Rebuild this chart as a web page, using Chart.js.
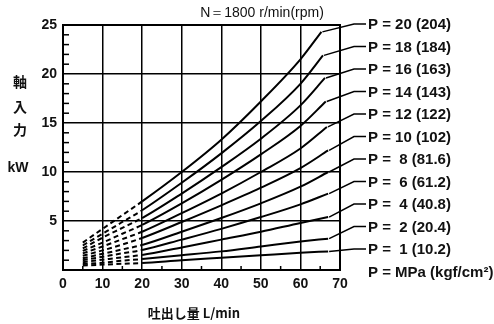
<!DOCTYPE html>
<html>
<head>
<meta charset="utf-8">
<script src="https://cdn.jsdelivr.net/npm/chart.js@4.4.1/dist/chart.umd.min.js"></script>
<style>
  body { margin: 0; background: #fff; }
  #wrap { width: 494px; height: 324px; }
</style>
</head>
<body>
<div id="wrap"><canvas id="powerChart" width="494" height="324"></canvas></div>
<script>
// shaft input power vs delivery, N = 1800 r/min
var pressures = [20, 18, 16, 14, 12, 10, 8, 6, 4, 2, 1];
var pressureKgf = ['204', '184', '163', '143', '122', '102', '81.6', '61.2', '40.8', '20.4', '10.2'];
var flowPts = [5, 10, 15, 20, 30, 40, 50, 60];
var endFlow = [65.3, 65.7, 66.2, 66.4, 66.7, 67, 67, 67, 67, 67, 67];

var kwP20 = [2.8, 4.2, 5.6, 7.0, 10.0, 13.3, 17.2, 21.5, 24.3];
var kwP18 = [2.5, 3.7, 4.9, 6.1, 8.9, 11.9, 15.2, 19.0, 21.9];
var kwP16 = [2.2, 3.3, 4.3, 5.3, 7.8, 10.5, 13.4, 16.8, 19.6];
var kwP14 = [1.95, 2.8, 3.7, 4.6, 6.8, 9.2, 11.8, 14.7, 17.2];
var kwP12 = [1.7, 2.4, 3.15, 3.9, 5.8, 7.8, 10.0, 12.4, 14.6];
var kwP10 = [1.45, 2.0, 2.6, 3.27, 4.9, 6.6, 8.4, 10.4, 12.2];
var kwP8 = [1.2, 1.65, 2.1, 2.55, 3.9, 5.3, 6.8, 8.5, 10.0];
var kwP6 = [1.0, 1.35, 1.7, 2.04, 3.1, 4.2, 5.4, 6.7, 7.8];
var kwP4 = [0.8, 1.05, 1.3, 1.53, 2.3, 3.1, 3.9, 4.8, 5.4];
var kwP2 = [0.6, 0.75, 0.95, 1.12, 1.5, 1.9, 2.4, 2.9, 3.2];
var kwP1 = [0.45, 0.55, 0.63, 0.71, 1.0, 1.25, 1.5, 1.75, 1.9];

var kwSeries = [kwP20, kwP18, kwP16, kwP14, kwP12, kwP10, kwP8, kwP6, kwP4, kwP2, kwP1];

var xTicks = [0, 10, 20, 30, 40, 50, 60, 70];
var yTicks = [5, 10, 15, 20, 25];

var BOLD = 'bold 14px "Liberation Sans", Arial, sans-serif';
var CJK = 'bold 14px "Noto Sans CJK JP", "Noto Sans CJK SC", sans-serif';

var datasets = [];
for (var i = 0; i < pressures.length; i++) {
    var pts = [];
    var vals = kwSeries[i];
    for (var j = 0; j < vals.length; j++) {
        pts.push({ x: j < flowPts.length ? flowPts[j] : endFlow[i], y: vals[j] });
    }
    datasets.push({
        label: 'P = ' + pressures[i],
        data: pts,
        borderColor: '#000',
        borderWidth: 2,
        pointRadius: 0,
        fill: false,
        cubicInterpolationMode: 'monotone',
        segment: {
            borderDash: function (ctx) {
                return ctx.p1.parsed.x <= 20 ? [5, 3.4] : undefined;
            }
        }
    });
}

function labelText(i) {
    var p = pressures[i] < 10 ? ' ' + pressures[i] : '' + pressures[i];
    return 'P = ' + p + ' (' + pressureKgf[i] + ')';
}

var decor = {
    id: 'decor',
    afterDraw: function (chart) {
        var c = chart.ctx;
        var a = chart.chartArea;
        var xs = chart.scales.x, ys = chart.scales.y;
        c.save();
        c.strokeStyle = '#000';
        c.fillStyle = '#111';

        // frame
        c.lineWidth = 2;
        c.strokeRect(a.left, a.top, a.right - a.left, a.bottom - a.top);

        // minor ticks
        c.lineWidth = 1.5;
        for (var v = 1; v < 25; v++) {
            if (v % 5 === 0) continue;
            var py = ys.getPixelForValue(v);
            c.beginPath(); c.moveTo(a.left, py); c.lineTo(a.left + 6, py); c.stroke();
        }
        for (var f = 5; f < 70; f += 10) {
            var px = xs.getPixelForValue(f);
            c.beginPath(); c.moveTo(px, a.bottom); c.lineTo(px, a.bottom - 4); c.stroke();
        }

        // title
        c.font = '14px "Liberation Sans", Arial, sans-serif';
        c.textAlign = 'center';
        c.textBaseline = 'middle';
        c.fillText('N\uFF1D1800 r/min(rpm)', 262, 13);

        // y title
        c.font = CJK;
        c.fillText('軸', 20, 82);
        c.fillText('入', 20, 107);
        c.fillText('力', 20, 130);
        c.font = BOLD;
        c.fillText('kW', 18, 168);

        // x title
        c.font = 'bold 13px "Noto Sans CJK JP", sans-serif';
        c.fillText('吐出し量 L/min', 194, 313);

        // pressure labels with leaders
        c.font = 'bold 15px "Liberation Sans", Arial, sans-serif';
        c.textAlign = 'left';
        c.lineWidth = 1.5;
        var rowTop = a.top - 1, rowStep = 22.5;
        for (var k = 0; k < pressures.length; k++) {
            var ry = rowTop + k * rowStep;
            var d = chart.getDatasetMeta(k).data;
            var endPt = d[d.length - 1];
            c.beginPath();
            c.moveTo(endPt.x + 1, endPt.y);
            c.lineTo(a.right + 14, ry);
            c.lineTo(a.right + 26, ry);
            c.stroke();
            c.fillText(labelText(k), a.right + 28, ry + 1);
        }
        c.fillText('P = MPa (kgf/cm\u00B2)', a.right + 28, rowTop + 11 * rowStep + 1);
        c.restore();
    }
};

new Chart(document.getElementById('powerChart'), {
    type: 'line',
    data: { datasets: datasets },
    options: {
        responsive: false,
        devicePixelRatio: 1,
        animation: false,
        layout: { padding: { left: 0, top: 25, right: 154, bottom: 0 } },
        plugins: { legend: { display: false }, tooltip: { enabled: false } },
        scales: {
            x: {
                type: 'linear',
                min: 0, max: 70,
                afterFit: function (s) { s.height = 54; },
                afterBuildTicks: function (s) { s.ticks = xTicks.map(function (v) { return { value: v }; }); },
                ticks: { color: '#111', padding: 6, font: { family: '"Liberation Sans", Arial, sans-serif', size: 14, weight: 'bold' } },
                grid: {
                    color: '#000',
                    lineWidth: function (ctx) { return (ctx.tick && (ctx.tick.value === 0 || ctx.tick.value === 70)) ? 0 : 1.5; },
                    drawTicks: false
                },
                border: { display: true, color: '#000', width: 2 }
            },
            y: {
                type: 'linear',
                min: 0, max: 25,
                afterFit: function (s) { s.width = 63; },
                afterBuildTicks: function (s) { s.ticks = [0].concat(yTicks).map(function (v) { return { value: v }; }); },
                ticks: {
                    color: '#111', padding: 6,
                    font: { family: '"Liberation Sans", Arial, sans-serif', size: 14, weight: 'bold' },
                    callback: function (v) { return v === 0 ? '' : v; }
                },
                grid: {
                    color: '#000',
                    lineWidth: function (ctx) { return (ctx.tick && (ctx.tick.value === 0 || ctx.tick.value === 25)) ? 0 : 1.5; },
                    drawTicks: false
                },
                border: { display: true, color: '#000', width: 2 }
            }
        }
    },
    plugins: [decor]
});
</script>
</body>
</html>
